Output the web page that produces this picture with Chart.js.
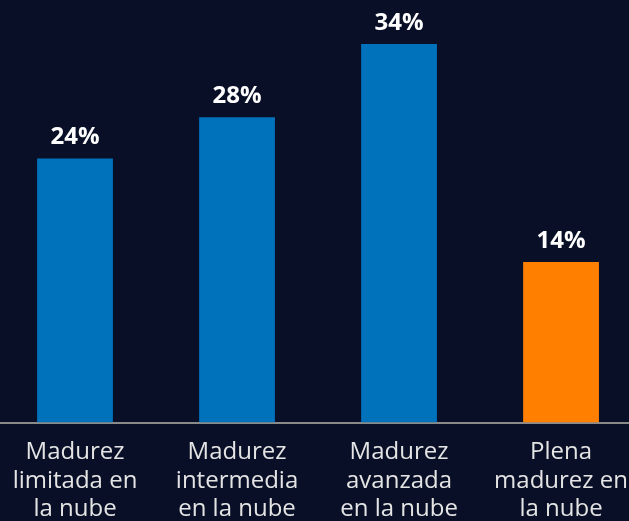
<!DOCTYPE html>
<html>
<head>
<meta charset="utf-8">
<script src="https://cdn.jsdelivr.net/npm/chart.js@4"></script>
<style>
html,body{margin:0;padding:0;background:#080f26;overflow:hidden;width:629px;height:521px;}
#wrap{position:absolute;left:-6px;top:0;width:649px;height:521px;}
</style>
</head>
<body>
<div id="wrap"><canvas id="c" width="649" height="521"></canvas></div>
<script>
const categories = [
  ["Madurez", "limitada en", "la nube"],
  ["Madurez", "intermedia", "en la nube"],
  ["Madurez", "avanzada", "en la nube"],
  ["Plena", "madurez en", "la nube"]
];
const values = [23.75, 27.45, 34.05, 14.45];
const valueLabels = ["24%", "28%", "34%", "14%"];
const barColors = ["#0072bc", "#0072bc", "#0072bc", "#ff7f00"];

const labelPlugin = {
  id: 'valueLabels',
  afterDatasetsDraw(chart) {
    const ctx = chart.ctx;
    const meta = chart.getDatasetMeta(0);
    ctx.save();
    ctx.fillStyle = '#ffffff';
    ctx.font = 'bold 24px "Open Sans"';
    ctx.textAlign = 'center';
    ctx.textBaseline = 'alphabetic';
    meta.data.forEach((bar, i) => {
      ctx.fillText(valueLabels[i], bar.x, bar.y - 14);
    });
    ctx.restore();
  }
};

new Chart(document.getElementById('c'), {
  type: 'bar',
  data: {
    labels: categories,
    datasets: [{
      data: values,
      backgroundColor: barColors,
      borderWidth: 0,
      categoryPercentage: 1,
      barPercentage: 0.468
    }]
  },
  options: {
    responsive: false,
    animation: false,
    devicePixelRatio: 1,
    layout: { padding: { top: 0, bottom: -18, left: 0, right: 0 } },
    plugins: { legend: { display: false }, tooltip: { enabled: false } },
    scales: {
      y: { display: false, min: 0, max: 38 },
      x: {
        grid: { display: false, drawTicks: false },
        border: { display: true, color: '#8a8a8a', width: 2 },
        ticks: {
          color: '#e4e4e4',
          font: { family: '"Open Sans"', size: 24, lineHeight: 1.2 },
          padding: 15,
          maxRotation: 0,
          autoSkip: false
        }
      }
    }
  },
  plugins: [labelPlugin]
});
</script>
</body>
</html>
